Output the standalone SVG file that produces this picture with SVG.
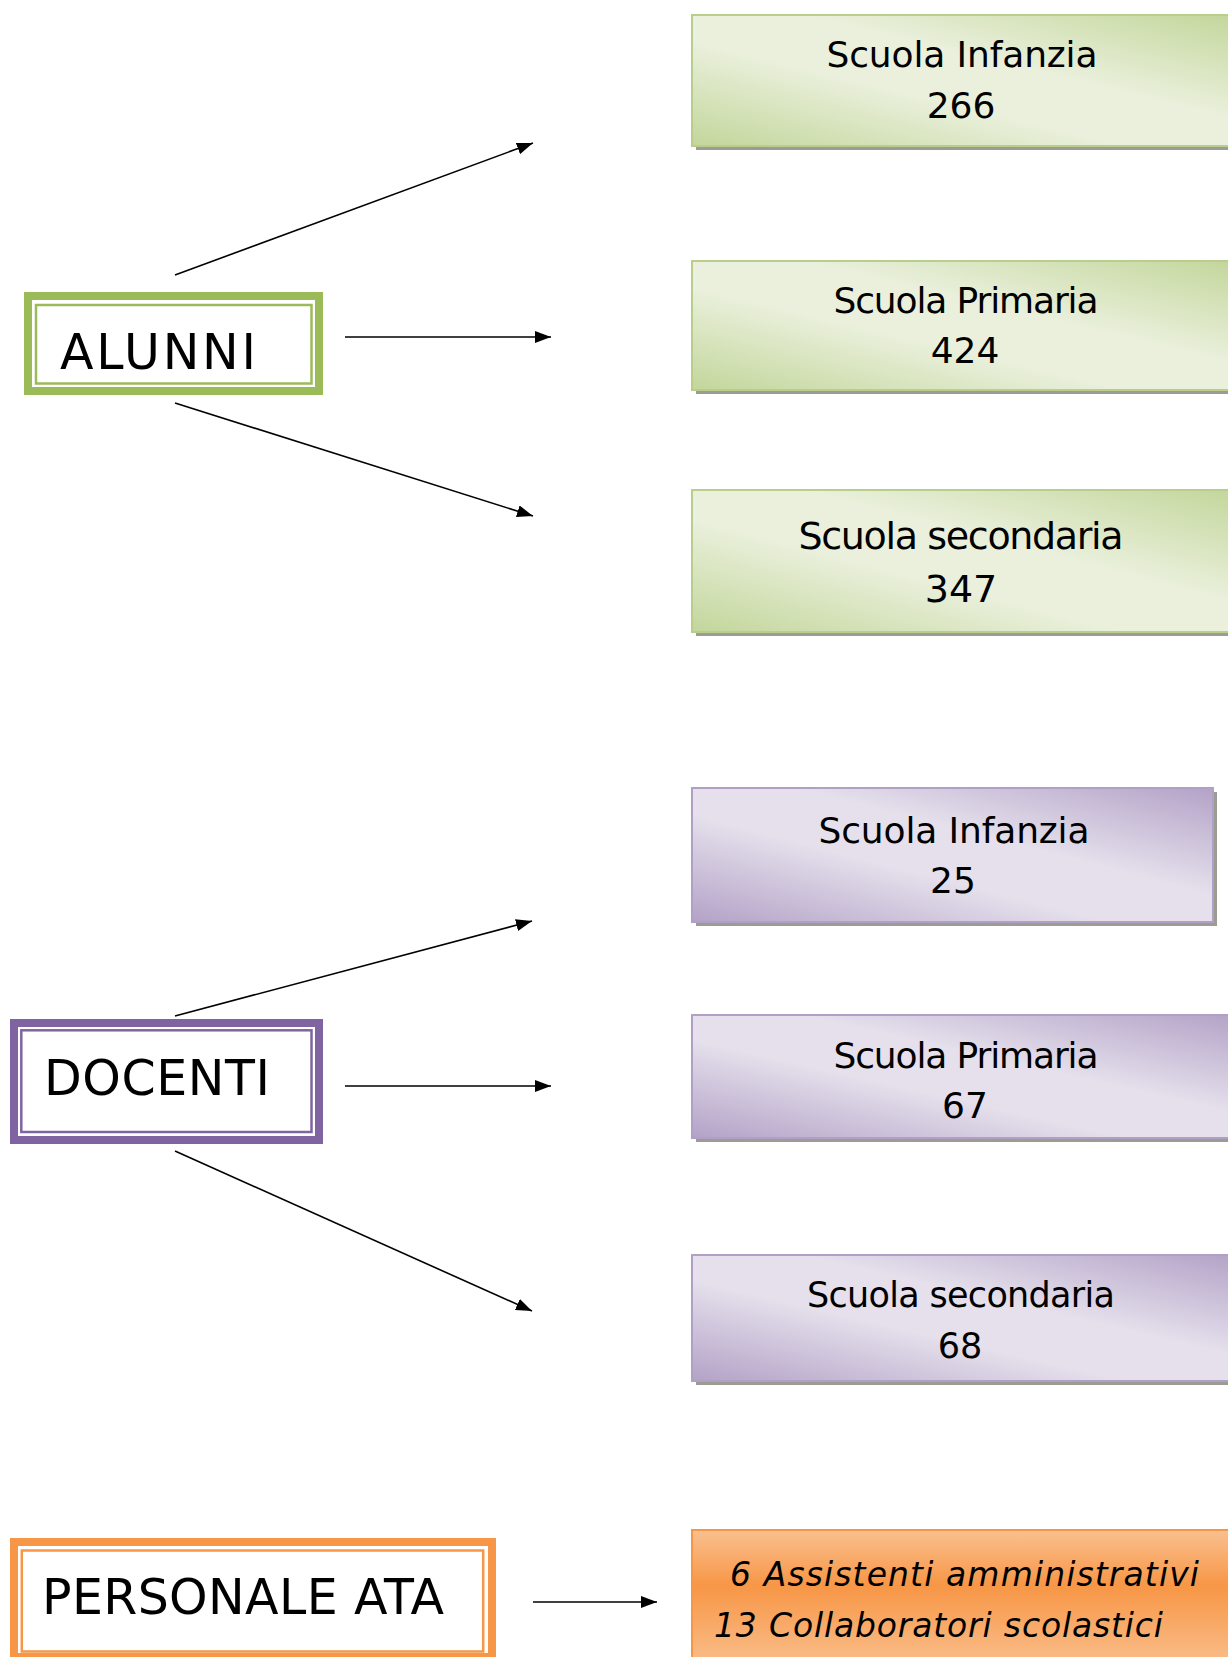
<svg xmlns="http://www.w3.org/2000/svg" width="1228" height="1657" viewBox="0 0 1228 1657">
<style>
  .lbl { font-family: "DejaVu Sans", "Liberation Sans", sans-serif; fill: #000; }
  .big { font-size: 49px; }
  .mid { font-size: 36px; text-anchor: middle; }
  .ata { font-size: 33px; font-style: italic; }
  .conn line { stroke: #000; stroke-width: 1.6; fill: none; marker-end: url(#arr); }
  .shadow { fill: #9c9c94; }
  .gbox { fill: url(#gGreen); stroke: #b9ce8c; stroke-width: 2; }
  .pbox { fill: url(#gPurple); stroke: #b1a0c6; stroke-width: 2; }
</style>
<defs>
  <marker id="arr" markerUnits="userSpaceOnUse" markerWidth="16" markerHeight="12" refX="16" refY="6" orient="auto">
    <path d="M0,0 L16,6 L0,12 z" fill="#000"/>
  </marker>
  <linearGradient id="gGreen" x1="0" y1="1" x2="1" y2="0">
    <stop offset="0" stop-color="#c3d69b"/>
    <stop offset="0.4" stop-color="#eaf0dc"/>
    <stop offset="0.6" stop-color="#eaf0dc"/>
    <stop offset="1" stop-color="#c3d69b"/>
  </linearGradient>
  <linearGradient id="gPurple" x1="0" y1="1" x2="1" y2="0">
    <stop offset="0" stop-color="#b3a2c7"/>
    <stop offset="0.4" stop-color="#e5e0ec"/>
    <stop offset="0.6" stop-color="#e5e0ec"/>
    <stop offset="1" stop-color="#b3a2c7"/>
  </linearGradient>
  <linearGradient id="gOrange" x1="0" y1="0" x2="0" y2="1">
    <stop offset="0" stop-color="#fac08f"/>
    <stop offset="0.4" stop-color="#f79646"/>
    <stop offset="1" stop-color="#fac08f"/>
  </linearGradient>
</defs>
<rect width="1228" height="1657" fill="#fff"/>

<g id="connectors" class="conn">
  <line x1="175" y1="275" x2="533" y2="143"/>
  <line x1="345" y1="337" x2="551" y2="337"/>
  <line x1="175" y1="403" x2="533" y2="516"/>
  <line x1="175" y1="1016" x2="532" y2="921"/>
  <line x1="345" y1="1086" x2="551" y2="1086"/>
  <line x1="175" y1="1151" x2="532" y2="1311"/>
  <line x1="533" y1="1602" x2="657" y2="1602"/>
</g>

<g id="alunni">
  <rect x="28" y="296" width="291" height="95" fill="#fff" stroke="#9bbb59" stroke-width="8"/>
  <rect x="36" y="305" width="275.5" height="78.5" fill="none" stroke="#9bbb59" stroke-width="2.5"/>
  <text class="lbl big" x="60" y="369" textLength="196">ALUNNI</text>
</g>

<g id="docenti">
  <rect x="14" y="1023" width="305" height="117" fill="#fff" stroke="#8064a2" stroke-width="8"/>
  <rect x="21.3" y="1030.3" width="290.2" height="101.7" fill="none" stroke="#8064a2" stroke-width="2.5"/>
  <text class="lbl big" x="44" y="1095" textLength="226">DOCENTI</text>
</g>

<g id="personale-ata">
  <rect x="14" y="1542" width="478" height="115" fill="#fff" stroke="#f79646" stroke-width="8"/>
  <rect x="21.8" y="1550.5" width="461.4" height="101" fill="none" stroke="#f79646" stroke-width="2.5"/>
  <text class="lbl big" x="42" y="1614" textLength="402">PERSONALE ATA</text>
</g>

<g id="alunni-infanzia">
  <rect class="shadow" x="696" y="19" width="545" height="131"/>
  <rect class="gbox" x="692" y="15" width="545" height="131"/>
  <text class="lbl mid" x="962" y="67" textLength="271">Scuola Infanzia</text>
  <text class="lbl mid" x="961" y="118">266</text>
</g>

<g id="alunni-primaria">
  <rect class="shadow" x="696" y="265" width="545" height="129"/>
  <rect class="gbox" x="692" y="261" width="545" height="129"/>
  <text class="lbl mid" x="966" y="313" textLength="265">Scuola Primaria</text>
  <text class="lbl mid" x="965" y="363">424</text>
</g>

<g id="alunni-secondaria">
  <rect class="shadow" x="696" y="494" width="545" height="142"/>
  <rect class="gbox" x="692" y="490" width="545" height="142"/>
  <text class="lbl mid" x="961" y="549" style="font-size:38px" textLength="325">Scuola secondaria</text>
  <text class="lbl mid" x="961" y="602" style="font-size:38px">347</text>
</g>

<g id="docenti-infanzia">
  <rect class="shadow" x="696" y="792" width="521" height="134"/>
  <rect class="pbox" x="692" y="788" width="521" height="134"/>
  <text class="lbl mid" x="954" y="843" textLength="271">Scuola Infanzia</text>
  <text class="lbl mid" x="953" y="893">25</text>
</g>

<g id="docenti-primaria">
  <rect class="shadow" x="696" y="1019" width="545" height="123"/>
  <rect class="pbox" x="692" y="1015" width="545" height="123"/>
  <text class="lbl mid" x="966" y="1068" textLength="265">Scuola Primaria</text>
  <text class="lbl mid" x="965" y="1118">67</text>
</g>

<g id="docenti-secondaria">
  <rect class="shadow" x="696" y="1259" width="545" height="126"/>
  <rect class="pbox" x="692" y="1255" width="545" height="126"/>
  <text class="lbl mid" x="961" y="1307" style="font-size:35px" textLength="308">Scuola secondaria</text>
  <text class="lbl mid" x="960" y="1358" style="font-size:35px">68</text>
</g>

<g id="ata-dettaglio">
  <rect x="692" y="1530" width="545" height="140" fill="url(#gOrange)" stroke="#f79646" stroke-width="2"/>
  <text class="lbl ata" x="730" y="1586" textLength="469">6 Assistenti amministrativi</text>
  <text class="lbl ata" x="714" y="1637" textLength="449">13 Collaboratori scolastici</text>
</g>
</svg>
